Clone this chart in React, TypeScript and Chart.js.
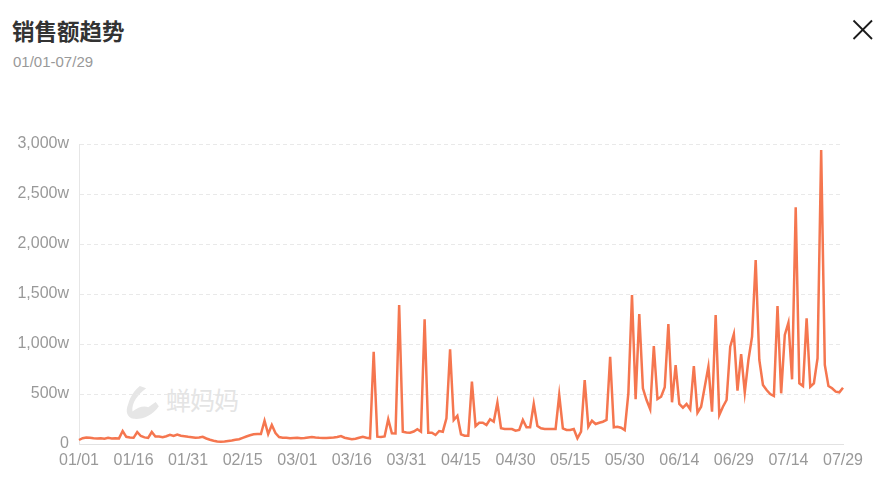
import React, { useEffect, useRef } from "react";
import { Chart, registerables } from "chart.js";

Chart.register(...registerables);

// Month lengths for 2024 (leap year), 01/01 – 07/29
const MONTH_DAYS = [31, 29, 31, 30, 31, 30, 29];
const LABEL_STEP = 15;

// Daily sales (unit: w / 万)
const SALES_JAN = [40, 58, 65, 62, 58, 55, 58, 52, 62, 56, 58, 56, 130, 72, 65, 62, 120, 80, 66, 62, 120, 75, 75, 68, 78, 92, 80, 95, 82, 78, 72];
const SALES_FEB = [68, 62, 66, 72, 55, 42, 33, 26, 22, 25, 30, 35, 42, 48, 62, 75, 88, 97, 100, 100, 233, 100, 190, 110, 70, 63, 62, 58, 60];
const SALES_MAR = [62, 58, 60, 66, 70, 65, 62, 60, 60, 63, 65, 70, 80, 63, 55, 47, 52, 63, 73, 63, 57, 923, 73, 70, 75, 247, 107, 105, 1390, 123, 115];
const SALES_APR = [113, 125, 147, 123, 1247, 113, 113, 90, 130, 123, 257, 947, 240, 283, 97, 83, 83, 623, 180, 213, 213, 190, 247, 223, 413, 157, 150, 150, 150, 133];
const SALES_MAY = [140, 240, 167, 167, 400, 180, 157, 150, 150, 150, 150, 490, 157, 140, 140, 150, 57, 123, 640, 173, 233, 200, 213, 223, 240, 873, 167, 173, 163, 140, 507];
const SALES_JUN = [1490, 447, 1300, 557, 440, 347, 980, 450, 473, 567, 1200, 417, 790, 400, 363, 400, 347, 780, 313, 373, 573, 773, 323, 1290, 290, 373, 440, 973, 1100, 533];
const SALES_JUL = [900, 517, 840, 1073, 1840, 840, 590, 540, 500, 480, 1380, 507, 1090, 1213, 647, 2367, 607, 580, 1257, 573, 607, 857, 2940, 790, 580, 557, 523, 517, 563];

const Y_MIN = 0;
const Y_MAX = 3000;
const Y_STEP = 500;

const TITLE = "销售额趋势";
const SUBTITLE = "01/01-07/29";
const WATERMARK = "蝉妈妈";

const pad = (n: number) => (n < 10 ? "0" + n : "" + n);
const DATE_LABELS: string[] = [];
MONTH_DAYS.forEach((days, m) => {
  for (let d = 1; d <= days; d++) DATE_LABELS.push(`${pad(m + 1)}/${pad(d)}`);
});
const SALES = [
  ...SALES_JAN,
  ...SALES_FEB,
  ...SALES_MAR,
  ...SALES_APR,
  ...SALES_MAY,
  ...SALES_JUN,
  ...SALES_JUL,
];

const FONT = "'Liberation Sans', Arial, sans-serif";
const CJK = "'Noto Sans CJK SC', 'Liberation Sans', sans-serif";

export default function App() {
  const ref = useRef<HTMLCanvasElement | null>(null);

  useEffect(() => {
    if (!ref.current) return;
    const chart = new Chart(ref.current, {
      type: "line",
      data: {
        labels: DATE_LABELS,
        datasets: [
          {
            data: SALES,
            borderColor: "#F5764F",
            borderWidth: 2.5,
            pointRadius: 0,
            tension: 0,
            fill: false,
          },
        ],
      },
      options: {
        animation: false,
        responsive: false,
        maintainAspectRatio: false,
        layout: { padding: { top: 144, right: 49, left: 0, bottom: 0 } },
        plugins: { legend: { display: false }, tooltip: { enabled: false } },
        scales: {
          x: {
            grid: { display: false, drawTicks: false },
            border: { display: true, color: "#e2e2e2", width: 1 },
            ticks: {
              autoSkip: false,
              maxRotation: 0,
              minRotation: 0,
              padding: 7,
              color: "#999999",
              font: { size: 16, family: FONT },
              callback: (_v: any, i: number) =>
                i % LABEL_STEP === 0 ? DATE_LABELS[i] : null,
            },
            afterFit: (s: any) => {
              s.height = 57;
            },
          },
          y: {
            min: Y_MIN,
            max: Y_MAX,
            grid: { color: "#e9e9e9", drawTicks: false, lineWidth: 1 },
            border: { display: true, color: "#e6e6e6", dash: [4, 3] },
            ticks: {
              stepSize: Y_STEP,
              padding: 10,
              color: "#999999",
              font: { size: 16, family: FONT },
              callback: (v: any) =>
                Number(v) === 0 ? "0" : Number(v).toLocaleString("en-US") + "w",
            },
            afterFit: (s: any) => {
              s.width = 79;
            },
          },
        },
      },
    });
    return () => chart.destroy();
  }, []);

  return (
    <div
      style={{
        position: "fixed",
        left: 0,
        top: 0,
        width: 892,
        height: 501,
        background: "#ffffff",
        overflow: "hidden",
      }}
    >
      <div
        style={{
          position: "absolute",
          left: 12,
          top: 17,
          fontFamily: CJK,
          fontWeight: 700,
          fontSize: 22.5,
          lineHeight: "26px",
          color: "#333333",
        }}
      >
        {TITLE}
      </div>
      <div
        style={{
          position: "absolute",
          left: 13,
          top: 54,
          fontFamily: FONT,
          fontSize: 15,
          lineHeight: "15px",
          color: "#999999",
        }}
      >
        {SUBTITLE}
      </div>
      <svg
        style={{ position: "absolute", left: 852, top: 19 }}
        width={22}
        height={22}
        viewBox="0 0 22 22"
      >
        <line x1="1.5" y1="1.5" x2="20" y2="20" stroke="#1a1a1a" strokeWidth="1.8" />
        <line x1="20" y1="1.5" x2="1.5" y2="20" stroke="#1a1a1a" strokeWidth="1.8" />
      </svg>
      <svg
        style={{ position: "absolute", left: 122, top: 384 }}
        width={42}
        height={38}
        viewBox="0 0 38 36"
      >
        <path
          d="M16 2 L22 4 C14 10 8 18 9 26 C14 22 20 20 24 22 L31 17 L34 21 C28 30 18 34 10 33 C4 32 2 26 5 19 C7 12 11 6 16 2 Z"
          fill="#e6e6e6"
        />
      </svg>
      <div
        style={{
          position: "absolute",
          left: 166,
          top: 383,
          fontFamily: CJK,
          fontSize: 25,
          lineHeight: "32px",
          color: "#e4e4e4",
          letterSpacing: -1,
        }}
      >
        {WATERMARK}
      </div>
      <canvas
        ref={ref}
        width={892}
        height={501}
        style={{ position: "absolute", left: 0, top: 0, width: 892, height: 501 }}
      />
    </div>
  );
}
